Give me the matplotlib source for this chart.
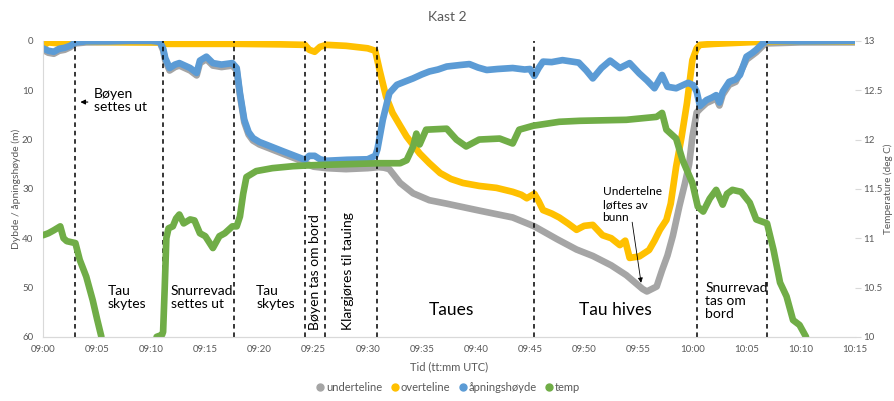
import matplotlib
matplotlib.use("Agg")
import matplotlib.pyplot as plt
import numpy as np
from matplotlib.lines import Line2D
from matplotlib.ticker import FuncFormatter

plt.rcParams['font.family'] = ['Lato', 'DejaVu Sans']

# minutes after 09:00
blue_t = [0, 0.5, 1, 1.5, 2, 2.5, 3, 4, 6, 8, 10, 10.8, 11.1, 11.3, 11.7, 12.2, 12.6, 13.1, 13.6, 14.2, 14.5,
          15.1, 15.7, 16.5, 17.5, 17.9, 18.2, 18.6, 19.0, 19.4, 20.0, 20.7, 22.2, 23.5, 24.2, 24.6, 25.1, 25.6,
          26.2, 28.1, 30.0, 30.7, 30.9, 31.4, 32.0, 32.7, 33.5, 34.2, 35.0, 35.7, 36.5, 37.3, 38.5, 39.4, 40.2,
          41.0, 42.0, 43.4, 44.5, 45.0, 45.4, 45.8, 46.2, 47.0, 48.0, 48.9, 49.5, 50.2, 50.8, 51.6, 52.4, 53.3,
          54.2, 55.1, 55.8, 56.5, 57.2, 57.7, 58.5, 59.6, 60.1, 60.4, 60.7, 61.3, 61.8, 62.2, 62.5, 62.8, 63.4,
          64.0, 64.4, 65.0, 65.5, 65.9, 66.5, 66.9, 70, 75]
blue_v = [1.5, 2.0, 2.2, 1.6, 1.4, 1.0, 0.3, 0.1, 0.1, 0, 0, 0.2, 1.5, 3.5, 5.5, 4.8, 4.5, 5.0, 5.5, 6.5, 4.0,
          3.2, 4.5, 4.8, 4.5, 5.5, 10.6, 16, 18.5, 19.7, 20.5, 21.1, 22.4, 23.5, 24.1, 23.3, 23.3, 24.0,
          24.3, 24.1, 24.0, 23.3, 22.0, 16.0, 10.6, 8.9, 8.2, 7.6, 6.8, 6.2, 5.8, 5.2, 4.9, 4.7, 5.4,
          5.9, 5.7, 5.5, 5.8, 5.7, 7.1, 5.5, 4.2, 4.3, 3.9, 4.2, 4.4, 6.0, 7.6, 5.5, 4.0, 5.5,
          4.5, 6.6, 8.0, 9.6, 6.9, 9.3, 9.6, 8.5, 9.0, 10.3, 13.2, 12.0, 11.5, 11.0, 12.5, 10.3, 8.3,
          7.8, 6.9, 3.2, 2.5, 1.8, 0.5, 0.0, 0.1, 0.0]

gray_t = [0, 0.5, 1, 1.5, 2, 2.5, 3, 4, 8, 10.8, 11.1, 11.3, 11.7, 12.2, 12.6, 13.1, 13.6, 14.2, 14.5, 15.1,
          15.7, 16.5, 17.5, 17.9, 18.2, 18.6, 19.0, 19.4, 20.0, 20.7, 22.2, 23.5, 24.2, 25.0, 26.2, 28.0,
          30.0, 31.0, 31.5, 32.0, 33.0, 34.2, 35.7, 37.3, 40.3, 43.4, 45.4, 47.5, 49.3, 50.8, 52.5, 53.9,
          55.4, 55.8, 56.7, 57.2, 57.7, 58.2, 58.8, 59.3, 59.7, 60.0, 60.4, 60.7, 61.3, 61.8, 62.2, 62.5,
          62.8, 63.4, 64.0, 65.0, 65.9, 66.5, 66.9, 70, 75]
gray_v = [1.8, 2.4, 2.6, 2.0, 1.8, 1.3, 0.5, 0.3, 0.2, 0.3, 1.9, 4.0, 6.0, 5.3, 5.0, 5.5, 6.0, 7.0, 4.5, 3.7,
          5.0, 5.3, 5.0, 6.0, 11.0, 16.5, 19.0, 20.2, 21.0, 21.6, 22.9, 24.0, 24.8, 25.5, 25.8, 26.0,
          25.8, 25.6, 25.7, 26.0, 28.8, 30.9, 32.3, 33.0, 34.4, 35.8, 37.6, 40.2, 42.3, 43.6, 45.5, 47.5,
          50.3, 50.8, 49.8, 46.5, 43.5, 39.5, 33.5, 29.0, 25.0, 19.5, 14.5, 13.8, 12.6, 12.1, 11.6, 13.1,
          10.9, 8.9, 8.3, 3.8, 2.3, 1.0, 0.5, 0.3, 0.3]

yellow_t = [0, 0.5, 1.5, 2.5, 3, 5, 8, 11, 11.5, 14, 18, 22, 24.2, 24.6, 25.1, 25.6, 26.2, 28, 30.0, 30.7,
            31.1, 31.7, 32.3, 33.0, 33.6, 34.8, 35.7, 36.7, 37.7, 38.8, 40.3, 41.9, 43.4, 44.2, 44.7, 45.4,
            45.8, 46.2, 47.0, 47.7, 48.5, 49.3, 50.0, 50.8, 51.7, 52.5, 53.3, 53.8, 54.2, 55.1, 56.0, 56.5,
            57.0, 57.6, 58.0, 58.5, 59.0, 59.5, 60.0, 60.4, 60.7, 62, 64, 66, 70, 75]
yellow_v = [1.0, 0.3, 0.5, 0.2, 0.1, 0.2, 0.3, 0.3, 0.6, 0.6, 0.6, 0.7, 0.8, 1.8, 2.2, 1.2, 0.8, 1.0, 1.5, 2.0,
            5.9, 11.3, 14.6, 17.2, 19.4, 22.8, 24.8, 26.8, 28.0, 28.8, 29.4, 29.8, 30.6, 31.2, 31.9, 31.0,
            32.5, 34.3, 35.0, 35.8, 37.0, 38.3, 37.5, 37.3, 39.4, 40.0, 41.4, 40.5, 44.0, 43.7, 42.4, 40.5,
            38.3, 36.3, 33.0, 25.5, 19.5, 12.6, 3.9, 1.5, 0.8, 0.6, 0.4, 0.2, 0.1, 0.1]

green_t = [0, 0.5, 1.0, 1.6, 1.9, 2.2, 2.6, 3.0, 3.4, 4.0, 4.6, 5.0, 5.4, 7.5, 10.5, 11.0, 11.1, 11.25, 11.4,
           11.6, 12.0, 12.3, 12.6, 13.0, 13.6, 14.0, 14.5, 15.0, 15.7, 16.3, 16.8, 17.5, 17.9, 18.2, 18.5,
           18.8, 19.7, 21.2, 23.1, 24.9, 28, 31.1, 33.0, 33.6, 34.2, 34.5, 34.8, 35.4, 37.3, 38.2, 39.1,
           40.3, 42.2, 43.4, 44.0, 45.3, 47.7, 49.6, 53.9, 56.7, 57.2, 57.6, 58.5, 59.1, 60.0, 60.5, 61.0,
           61.6, 62.2, 62.8, 63.2, 63.7, 64.5, 65.3, 65.9, 66.9, 67.5, 68.1, 68.7, 69.3, 69.9, 70.5]
green_v = [11.03, 11.05, 11.08, 11.12, 11.00, 10.97, 10.96, 10.95, 10.78, 10.61, 10.37, 10.18, 10.0, np.nan,
           10.0, 10.02, 10.05, 10.5, 11.0, 11.1, 11.12, 11.2, 11.24, 11.15, 11.19, 11.18, 11.05, 11.02,
           10.90, 11.02, 11.05, 11.12, 11.12, 11.22, 11.45, 11.62, 11.68, 11.71, 11.73, 11.74, 11.75,
           11.76, 11.76, 11.79, 11.93, 12.06, 11.95, 12.10, 12.11, 12.0, 11.93, 12.0, 12.01, 11.96, 12.10,
           12.14, 12.18, 12.19, 12.20, 12.23, 12.27, 12.10, 12.01, 11.79, 11.56, 11.32, 11.27, 11.40,
           11.49, 11.34, 11.45, 11.49, 11.47, 11.36, 11.19, 11.15, 10.88, 10.55, 10.41, 10.17, 10.12, 10.0]

# event markers (dashed lines), minutes after 09:00
events = [3.0, 11.1, 17.65, 24.2, 26.1, 30.85, 45.4, 60.4, 66.85]

series_names = ["underteline", "overteline", "åpningshøyde", "temp"]
colors = ["#A5A5A5", "#FFC000", "#5B9BD5", "#70AD47"]
txt = "#595959"

fig = plt.figure(figsize=(8.95, 4.01), dpi=100)
ax = fig.add_axes([0.048, 0.160, 0.907, 0.738])
ax2 = ax.twinx()

kw = dict(lw=4.8, solid_capstyle="round", solid_joinstyle="round")
ax.plot(gray_t, gray_v, color=colors[0], **kw)
ax.plot(yellow_t, yellow_v, color=colors[1], **kw)
ax.plot(blue_t, blue_v, color=colors[2], **kw)
ax2.plot(green_t, green_v, color=colors[3], **kw)

for e in events:
    ax.axvline(e, color="black", lw=1.1, ls=(0, (3, 2.5)), zorder=5)

ax.set_xlim(0, 75)
ax.set_ylim(60, 0)
ax2.set_ylim(10, 13)
ax.set_xticks(np.arange(0, 76, 5))
ax.xaxis.set_major_formatter(FuncFormatter(lambda m, p: "%02d:%02d" % (9 + int(m) // 60, int(m) % 60)))
ax.set_yticks(np.arange(0, 61, 10))
ax2.set_yticks(np.arange(10, 13.01, 0.5))
ax2.set_yticklabels(["10", "10.5", "11", "11.5", "12", "12.5", "13"])

for a in (ax, ax2):
    for s in ["top", "right", "left"]:
        a.spines[s].set_visible(False)
    a.spines["bottom"].set_color("#D9D9D9")
    a.tick_params(labelsize=7, colors=txt, length=0)
ax.spines["left"].set_visible(True)
ax.spines["left"].set_color("#D9D9D9")
ax2.tick_params(axis="y", length=4, color="#D9D9D9", pad=2)
ax.tick_params(axis="x", pad=6)
ax.tick_params(axis="y", pad=7)

ax.set_xlabel("Tid (tt:mm UTC)", fontsize=8, color=txt, labelpad=5)
fig.text(16 / 895, 0.53, "Dybde / åpningshøyde (m)", rotation=90, ha="center", va="center",
         fontsize=7.5, color=txt)
fig.text(888.5 / 895, 0.53, "Temperature (deg C)", rotation=90, ha="center", va="center",
         fontsize=7.2, color=txt)
fig.text(0.5, 0.957, "Kast 2", ha="center", va="center", fontsize=10, color=txt)

# annotations
ax.annotate("", xy=(3.2, 12.4), xytext=(4.4, 12.4),
            arrowprops=dict(arrowstyle="-|>", color="black", lw=0.8, mutation_scale=7))
ax.text(4.7, 12.0, "Bøyen\nsettes ut", fontsize=10, va="center", ha="left", linespacing=1.1)
ax.text(6.0, 52.0, "Tau\nskytes", fontsize=10, va="center", ha="left", linespacing=1.1)
ax.text(11.8, 52.0, "Snurrevad\nsettes ut", fontsize=10, va="center", ha="left", linespacing=1.1)
ax.text(19.7, 52.0, "Tau\nskytes", fontsize=10, va="center", ha="left", linespacing=1.1)
ax.text(25.15, 58.6, "Bøyen tas om bord", fontsize=10, rotation=90, va="bottom", ha="center")
ax.text(28.2, 58.6, "Klargjøres til tauing", fontsize=10, rotation=90, va="bottom", ha="center")
ax.text(37.75, 54.5, "Taues", fontsize=12.5, va="center", ha="center")
ax.text(52.9, 54.5, "Tau hives", fontsize=12.5, va="center", ha="center")
ax.text(61.2, 52.8, "Snurrevad\ntas om\nbord", fontsize=10, va="center", ha="left", linespacing=1.1)
ax.text(51.7, 33.2, "Undertelne\nløftes av\nbunn", fontsize=8.6, va="center", ha="left", linespacing=1.2)
ax.annotate("", xy=(55.3, 49.6), xytext=(54.4, 36.2),
            arrowprops=dict(arrowstyle="-|>", color="black", lw=0.6, mutation_scale=7))

handles = [Line2D([], [], marker="o", ls="None", color=c, markersize=5) for c in colors]
fig.legend(handles, series_names, loc="lower center", bbox_to_anchor=(0.5, -0.005), ncol=4, frameon=False,
           fontsize=8, labelcolor=txt, handletextpad=0.05, columnspacing=0.6, handlelength=1.0)

fig.savefig("out.png", dpi=100)
